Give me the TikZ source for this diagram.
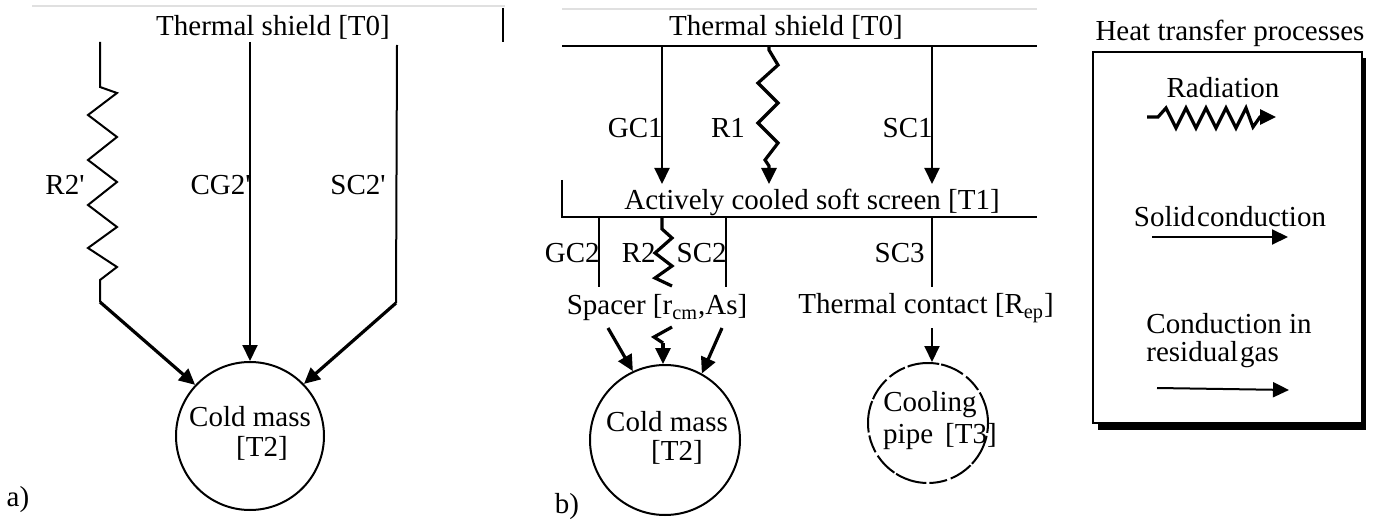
\documentclass[tikz,border=0pt]{standalone}
\usepackage{fontspec}
\setmainfont{Liberation Serif}[Ligatures=TeXOff]
\usetikzlibrary{arrows.meta}
\begin{document}
\begin{tikzpicture}[x=0.5pt,y=-0.5pt,
  every node/.style={font=\fontsize{14.5}{16}\selectfont, inner sep=0pt},
  ln/.style={line width=1pt},
  thk/.style={line width=1.6pt},
  arr/.style={-{Triangle[length=8pt,width=7.5pt]}},
  grayln/.style={line width=0.6pt, draw=black!12},
  ball/.style={circle, draw, line width=1pt, inner sep=0pt},
  lbl/.style={anchor=center}]
\useasboundingbox (0,0) rectangle (1388,524);

% ================= panel a =================
\draw[grayln] (32,6) -- (505,6);
\coordinate (atk1) at (503,8); \coordinate (atk2) at (503,42);
\draw[ln] (atk1) -- (atk2);
\node[lbl] (ats) at (273,27) {Thermal shield [T0]};

\node[ball, minimum size=74pt] (acm) at (250,436) {};
\node[lbl] (acmt) at (250,417) {Cold mass};
\node[lbl] (acmt2) at (262,448) {[T2]};

% R2'
\coordinate (ar0) at (100,42);
\coordinate (ar1) at (100,302);
\draw[ln] (ar0) -- (100,87) -- (117,93) -- (88,115) -- (117,137) -- (88,160) -- (117,182) -- (88,205) -- (117,227) -- (88,248) -- (117,267) -- (100,280) -- (ar1);
\draw[thk,arr] (ar1) -- (acm.137);
\node[lbl] (ar2l) at (65,185) {R2'};

% CG2'
\coordinate (ac0) at (250,42);
\draw[ln,arr] (ac0) -- (acm.north);
\node[anchor=east] (acgl) at (251,185) {CG2'};

% SC2'
\coordinate (as0) at (397,45);
\coordinate (as1) at (396,303);
\draw[ln] (as0) -- (as1);
\draw[thk,arr] (as1) -- (acm.44);
\node[lbl] (ascl) at (358,185) {SC2'};

\node[lbl] (alab) at (18,500) {a)};

% ================= panel b =================
\draw[grayln] (562,9) -- (1037,9);
\node[lbl] (bts) at (786,27) {Thermal shield [T0]};
\coordinate (bt1) at (562,46); \coordinate (bt2) at (1037,46);
\draw[ln] (bt1) -- (bt2);

\coordinate (bs0) at (562,180);
\coordinate (bs1) at (562,217); \coordinate (bs2) at (1037,217);
\draw[ln] (bs0) -- (bs1) -- (bs2);
\node[lbl] (bss) at (812,202) {Actively cooled soft screen [T1]};

% GC1, R1, SC1
\coordinate (gc1a) at (662,46); \coordinate (gc1b) at (662,184);
\draw[ln,arr] (gc1a) -- (gc1b);
\node[anchor=east] (gc1l) at (663,128) {GC1};
\coordinate (r1a) at (769,46); \coordinate (r1b) at (769,184);
\draw[thk,arr] (r1a) -- (769,50) -- (778,65) -- (758,83) -- (778,103) -- (758,123) -- (778,143) -- (765,160) -- (769,166) -- (r1b);
\node[lbl] (r1l) at (728,128) {R1};
\coordinate (sc1a) at (932,46); \coordinate (sc1b) at (932,184);
\draw[ln,arr] (sc1a) -- (sc1b);
\node[anchor=east] (sc1l) at (933,128) {SC1};

% GC2, R2, SC2, SC3
\coordinate (gc2a) at (599,217); \coordinate (gc2b) at (599,287);
\draw[ln] (gc2a) -- (gc2b);
\node[anchor=east] (gc2l) at (600,253) {GC2};
\coordinate (r2a) at (662,217); \coordinate (r2b) at (672,286);
\draw[thk] (r2a) -- (662,229) -- (672,238) -- (655,253) -- (672,266) -- (655,278) -- (r2b);
\node[anchor=east] (r2l) at (656,253) {R2};
\coordinate (sc2a) at (726,217); \coordinate (sc2b) at (726,287);
\draw[ln] (sc2a) -- (sc2b);
\node[anchor=east] (sc2l) at (727,253) {SC2};
\coordinate (sc3a) at (932,217); \coordinate (sc3b) at (932,287);
\draw[ln] (sc3a) -- (sc3b);
\node[anchor=east] (sc3l) at (925,253) {SC3};

\node[lbl] (spc) at (657,308) {Spacer [r\textsubscript{cm},As]};
\node[anchor=west] (tco) at (798,308) {Thermal contact [R\textsubscript{ep}]};

\node[ball, minimum size=75pt] (bcm) at (665,440) {};
\node[lbl] (bcmt) at (667,422) {Cold mass};
\node[lbl] (bcmt2) at (677,452) {[T2]};

\coordinate (sp1) at (608,328);
\coordinate (sp2) at (672,327);
\coordinate (sp2m) at (663,343);
\coordinate (sp3) at (722,328);
\draw[thk,arr] (sp1) -- (bcm.115);
\draw[thk] (sp2) -- (654,337) -- (sp2m);
\draw[thk,arr] (sp2m) -- (sp2m |- bcm.north);
\draw[thk,arr] (sp3) -- (bcm.61);

\node[circle, draw, line width=1pt, inner sep=0pt, minimum size=60pt,
  dash pattern=on 16pt off 1.5pt on 9pt off 2pt on 12pt off 1pt] (cpp) at (928,423) {};
\node[lbl] (cpt1) at (930,405) {Cooling};
\node[lbl] (cpt2) at (940,437) {pipe\ \,[T3]};
\coordinate (tc1) at (932,328);
\draw[ln,arr] (tc1) -- (tc1 |- cpp.north);

\node[lbl] (blab) at (567,507) {b)};

% ================= legend =================
\node[lbl] (htp) at (1230,33) {Heat transfer processes};
\fill (1098,58) rectangle (1366,430);
\draw[line width=1pt, fill=white] (1093,52) rectangle (1362,423);
\node[lbl] (lrad) at (1223,88) {Radiation};
\coordinate (lr0) at (1147,117); \coordinate (lr1) at (1276,117);
\draw[thk,arr] (lr0) -- (1158,117) -- (1166,108) -- (1176,128) -- (1186,108) -- (1196,128) -- (1206,108) -- (1216,128) -- (1226,108) -- (1236,128) -- (1246,108) -- (1253,127) -- (1260,117) -- (lr1);
\node[lbl] (lsol) at (1230,217) {Solid\kern1pt conduction};
\coordinate (ls0) at (1152,237); \coordinate (ls1) at (1288,237);
\draw[ln,arr] (ls0) -- (ls1);
\node[anchor=north west, align=left, font=\fontsize{14.5}{14}\selectfont] (lgas) at (1146,313) {Conduction in\\residual\kern1pt gas};
\coordinate (lg0) at (1157,388); \coordinate (lg1) at (1289,390);
\draw[ln,arr] (lg0) -- (lg1);
\end{tikzpicture}
\end{document}
